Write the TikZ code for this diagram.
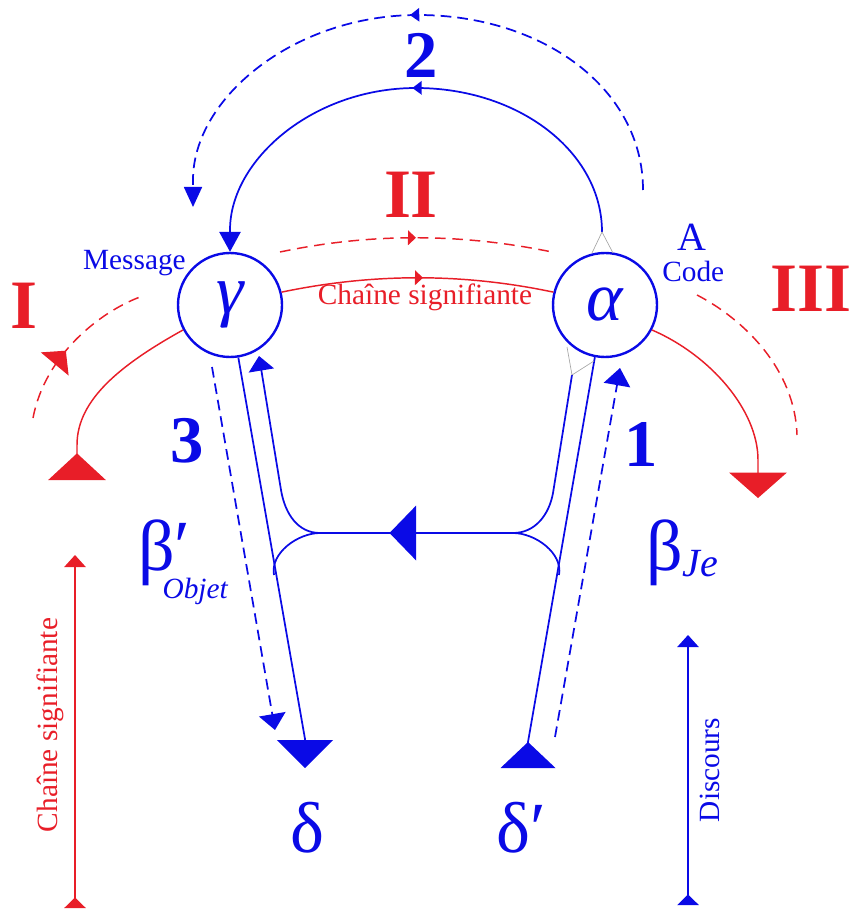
\documentclass[tikz,border=0pt]{standalone}
\usepackage{fontspec}
\setmainfont{Liberation Serif}
\usetikzlibrary{arrows.meta,decorations.markings}
\definecolor{lblue}{RGB}{10,10,230}
\definecolor{lred}{RGB}{232,30,40}
\begin{document}
\begin{tikzpicture}[x=0.75pt,y=-0.75pt,
  bl/.style={draw=lblue,line width=1.3pt},
  rd/.style={draw=lred,line width=1.1pt},
  bdash/.style={bl,dash pattern=on 8pt off 4.5pt},
  rdash/.style={rd,dash pattern=on 8pt off 5pt},
  guide/.style={draw=black!35,line width=0.5pt},
  circ/.style={circle,draw=lblue,line width=1.8pt,minimum size=78pt,inner sep=0pt,text=lblue,font=\itshape\fontsize{52}{52}\selectfont},
  greekup/.style={text=lblue,inner sep=0pt,font=\fontsize{54}{54}\selectfont},
  num/.style={text=lblue,inner sep=0pt,font=\bfseries\fontsize{50}{50}\selectfont},
  roman/.style={text=lred,inner sep=0pt,font=\bfseries\fontsize{52}{52}\selectfont},
  lab/.style={inner sep=0pt,font=\fontsize{22}{22}\selectfont},
  mid/.style 2 args={postaction={decorate},decoration={markings,mark=at position #1 with {\arrow{#2}}}},
]
\useasboundingbox (0,0) rectangle (853,912);

% circles
\node[circ] (g) at (230,305) {γ};
\node[circ] (a) at (605,305) {α};

% named points
\coordinate (aT) at (602,232);
\coordinate (gB) at (259,356);
\coordinate (B1) at (281,490);
\coordinate (cL) at (320,533);
\coordinate (cR) at (513,533);
\coordinate (D0) at (572,375);
\coordinate (D1) at (553,493);
\coordinate (AL) at (274,575);
\coordinate (CR) at (559,575);
\coordinate (dA) at (305,739);
\coordinate (dl) at (305,768);
\coordinate (dC) at (528,742);
\coordinate (dr) at (528,768);

% loop 2 (solid and dashed)
\draw[bl,-{Triangle[length=15pt,width=16pt]},mid={0.49}{Triangle[length=7pt,width=10pt]}]
  (aT) .. controls (602,152) and (519,88) .. (416,88) .. controls (313,88) and (230,160) .. (230,230) -- (g.north);
\draw[bdash,-{Triangle[length=15pt,width=13.5pt]},mid={0.5}{Triangle[length=7pt,width=10pt]}]
  (643,190) .. controls (643,88) and (542,15) .. (418,15) .. controls (294,15) and (193,98) .. (193,180) -- (193,207);
\draw[guide] (592,253) -- (aT) -- (613,253);

% red chains
\draw[rd,mid={0.52}{Triangle[length=6pt,width=11pt,color=lred]}]
  (g.14) .. controls (373,273) and (463,273) .. (a.166);
\draw[rdash,mid={0.5}{Triangle[length=6pt,width=11pt,color=lred]}]
  (280,252) .. controls (370,233) and (460,233) .. (552,252);
\draw[rd,-{Triangle[reversed,length=20pt,width=43pt]}]
  (g.-152) .. controls (120,365) and (77,400) .. (77,445) -- (77,480);
\draw[rdash,mid={0.45}{Triangle[length=13pt,width=27pt,color=lred]}]
  (33,418) .. controls (45,355) and (100,312) .. (140,297);
\draw[rd,-{Triangle[length=19pt,width=43pt]}]
  (a.-28) .. controls (710,355) and (758,410) .. (758,460) -- (758,498);
\draw[rdash] (697,295) .. controls (745,320) and (795,370) .. (797,435);

% lower structure
\draw[bl] (g.-81) -- (dA);
\draw[bl,-{Triangle[length=21pt,width=42pt]}] (dA) -- (dl);
\draw[bl,{Triangle[length=11pt,width=19pt]}-] (gB) -- (B1) .. controls (285,514) and (298,533) .. (cL);
\draw[bl] (cL) .. controls (298,533) and (270,553) .. (AL);
\draw[bl,mid={0.64}{Triangle[length=20pt,width=41pt]}] (cR) -- (cL);
\draw[bl] (D0) -- (D1) .. controls (549,515) and (535,533) .. (cR);
\draw[bl] (cR) .. controls (535,533) and (563,553) .. (CR);
\draw[bl] (a.-101) -- (dC);
\draw[bl,-{Triangle[reversed,length=19.5pt,width=41pt]}] (dC) -- (dr);
\draw[guide] (567,347) -- (D0) -- (594,361);

% dashed 3 and 1
\draw[bdash,-{Triangle[length=12pt,width=20pt]}] (212,367) -- (275,730);
\draw[bdash,-{Triangle[length=13pt,width=20pt]}] (555,737) -- (620,368);

% side arrows
\draw[draw=lred,line width=0.8pt,{Triangle[reversed,length=8pt,width=16pt]}-{Triangle[length=9pt,width=16pt]}] (75,908) -- (75,555);
\draw[draw=lblue,line width=0.8pt,{Triangle[reversed,length=8pt,width=16pt]}-{Triangle[length=9pt,width=16pt]}] (688,905) -- (688,635);

% labels
\node[lab,text=lblue,anchor=base east] (msg) at (186,270) {Message};
\node[lab,text=lblue,font=\fontsize{30}{30}\selectfont] (A) at (692,237) {A};
\node[lab,text=lblue,anchor=base west] (code) at (662,282) {Code};
\node[lab,text=lred,anchor=base] (chain) at (425,305) {Chaîne signifiante};
\node[roman] (r1) at (24,306) {I};
\node[roman] (r2) at (411,195) {II};
\node[roman] (r3) at (811,289) {III};
\node[num] (n2) at (421,55) {2};
\node[num] (n3) at (187,441) {3};
\node[num] (n1) at (641,444) {1};
\node[greekup,anchor=base west] (bo) at (138,570) {β′\kern-21pt\raisebox{-21pt}{\itshape\fontsize{22}{22}\selectfont Objet}};
\node[greekup,anchor=base west] (bj) at (646,570) {β\raisebox{-5pt}{\itshape\fontsize{30}{30}\selectfont Je}};
\node[greekup,anchor=base] (d) at (307,852) {δ};
\node[greekup,anchor=base west] (dp) at (496,852) {δ′};
\node[lab,text=lred,rotate=90] (cs) at (50,725) {Chaîne signifiante};
\node[lab,text=lblue,rotate=90] (disc) at (710,770) {Discours};
\end{tikzpicture}
\end{document}
